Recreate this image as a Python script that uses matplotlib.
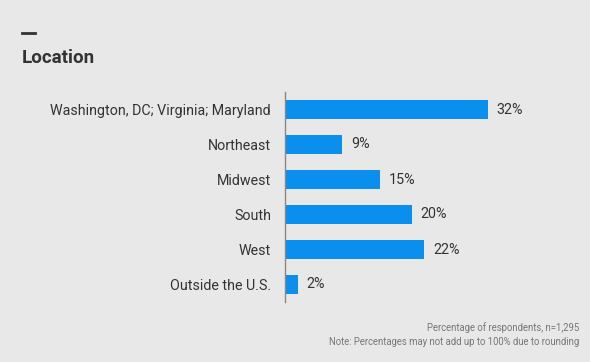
import matplotlib.pyplot as plt
from matplotlib.lines import Line2D

plt.rcParams['font.family'] = ['Roboto', 'DejaVu Sans']

regions = ['Washington, DC; Virginia; Maryland', 'Northeast', 'Midwest',
           'South', 'West', 'Outside the U.S.']
shares = [32, 9, 15, 20, 22, 2]

bg = '#e8e8e8'
bar_colour = '#0a8fef'
text_colour = '#333333'

fig = plt.figure(figsize=(5.9, 3.62), dpi=100, facecolor=bg)
ax = fig.add_axes([285 / 590, 1 - 302 / 362, 255 / 590, 210 / 362])
ax.set_facecolor(bg)

ypos = list(range(len(regions)))
ax.barh(ypos, shares, height=0.57, color=bar_colour)
for y, v in zip(ypos, shares):
    ax.text(v + 1.4, y, f'{v}%', va='center', ha='left', fontsize=10.3, color=text_colour)

ax.set_ylim(len(regions) - 0.5, -0.5)
ax.set_xlim(0, 255 / 6.34)
ax.set_yticks(ypos)
ax.set_yticklabels(regions, fontsize=10.3, color=text_colour)
ax.tick_params(axis='y', length=0, pad=10)
ax.set_xticks([])
for side in ['top', 'right', 'bottom']:
    ax.spines[side].set_visible(False)
ax.spines['left'].set_color('#888888')
ax.spines['left'].set_linewidth(1)

# title with short dash above
fig.add_artist(Line2D([22 / 590, 35 / 590], [1 - 33 / 362, 1 - 33 / 362],
                      color=text_colour, linewidth=2))
fig.text(22 / 590, 1 - 63 / 362, 'Location', fontsize=13.5, fontweight='bold',
         color=text_colour, ha='left', va='baseline')

fig.text(579 / 590, 1 - 331 / 362, 'Percentage of respondents, n=1,295',
         fontsize=6.85, color='#777777', ha='right', va='baseline')
fig.text(579 / 590, 1 - 345 / 362, 'Note: Percentages may not add up to 100% due to rounding',
         fontsize=6.85, color='#777777', ha='right', va='baseline')

fig.savefig('out.png', dpi=100, facecolor=bg)
